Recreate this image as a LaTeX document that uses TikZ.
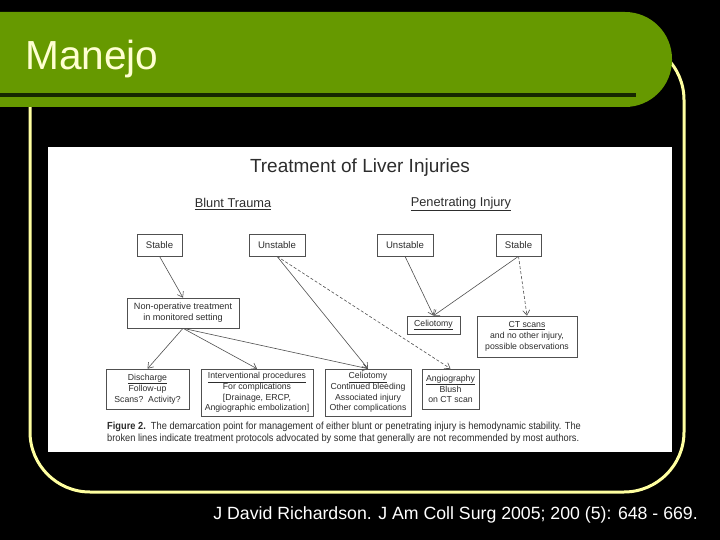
\documentclass[tikz,border=0pt]{standalone}
\usepackage{fontspec}
\setmainfont{Liberation Sans}
\newfontfamily\figfont{Liberation Sans}
\newfontfamily\capfont[FakeStretch=0.9]{Liberation Sans}
\usepackage{tikz}
\usetikzlibrary{arrows.meta}

\definecolor{titlegreen}{RGB}{102,153,0}
\definecolor{bardark}{RGB}{22,40,0}
\definecolor{framey}{RGB}{255,255,160}
\definecolor{titletxt}{RGB}{255,255,210}
\definecolor{boxgray}{RGB}{80,80,80}
\definecolor{txtgray}{RGB}{45,45,45}

\tikzset{
  box/.style={draw=boxgray, line width=0.6pt, inner sep=1pt, align=center, text=txtgray,
    font=\figfont\fontsize{8.7}{10.8}\selectfont},
  topbox/.style={box, font=\figfont\fontsize{9.6}{11}\selectfont},
  link/.style={-{Straight Barb[length=5pt,width=7pt]}, draw=boxgray, line width=0.6pt},
  maybe/.style={link, dash pattern=on 3pt off 2pt}
}

\begin{document}
\begin{tikzpicture}[x=1pt,y=-1pt]
\useasboundingbox (0,0) rectangle (720,540);
\fill[black] (0,0) rectangle (720,540);
% frame and title bar
\draw[framey, line width=3pt, rounded corners=60pt] (30,40) rectangle (684,492);
\fill[titlegreen] (0,12) [rounded corners=47pt] -- (672,12) -- (672,107) [sharp corners] -- (0,107) -- cycle;
\fill[bardark] (0,93) rectangle (636,97);
\node[anchor=base west, inner sep=0pt, text=titletxt, font=\fontsize{40.6}{44}\selectfont] (title) at (25,70) {Manejo};
\fill[white] (48,147) rectangle (672,452);

% figure
\node[text=txtgray, font=\figfont\fontsize{19}{22}\selectfont] (head) at (360,168) {Treatment of Liver Injuries};
\node[text=txtgray, font=\figfont\fontsize{12.8}{15}\selectfont] (blunt) at (233,204) {\underline{Blunt Trauma}};
\node[text=txtgray, font=\figfont\fontsize{12.8}{15}\selectfont] (pen) at (461,204) {\underline{Penetrating Injury}};

\node[topbox, minimum width=45pt, minimum height=22pt] (bstable) at (159.5,245) {Stable};
\node[topbox, minimum width=56pt, minimum height=22pt] (bunstable) at (277,245) {Unstable};
\node[topbox, minimum width=56pt, minimum height=22pt] (punstable) at (405,245) {Unstable};
\node[topbox, minimum width=45pt, minimum height=22pt] (pstable) at (518.5,245) {Stable};

\node[box, font=\figfont\fontsize{9.1}{11}\selectfont, minimum width=112pt, minimum height=30pt] (nonop) at (183,313)
  {Non-operative treatment\\in monitored setting};
\node[box, minimum width=53pt, minimum height=18pt] (pcelio) at (433.5,325) {\underline{Celiotomy}};
\node[box, minimum width=100pt, minimum height=41pt] (ctscan) at (527,336.5)
  {\underline{CT scans}\\and no other injury,\\possible observations};

\node[box, minimum width=83pt, minimum height=40pt] (discharge) at (147.5,389)
  {\underline{Discharge}\\Follow-up\\Scans?\ \ Activity?};
\node[box, minimum width=112pt, minimum height=47pt] (interv) at (257,392.5)
  {\underline{Interventional procedures}\\For complications\\{[Drainage, ERCP,}\\Angiographic embolization]};
\node[box, minimum width=86pt, minimum height=47pt] (bcelio) at (368,392.5)
  {\underline{Celiotomy}\\Continued bleeding\\Associated injury\\Other complications};
\node[box, minimum width=57pt, minimum height=40pt] (angio) at (450.5,389)
  {\underline{Angiography}\\Blush\\on CT scan};

\node[anchor=north west, inner sep=0pt, align=left, text=txtgray, font=\capfont\fontsize{10.3}{12.6}\selectfont] (caption) at (107,421.5)
  {\textbf{Figure 2.}\ \ The demarcation point for management of either blunt or penetrating injury is hemodynamic stability. The\\
   broken lines indicate treatment protocols advocated by some that generally are not recommended by most authors.};

% connectors
\draw[link] (bstable.south) -- (nonop.north);
\draw[link] (bunstable.south) -- (bcelio.north);
\draw[maybe] (bunstable.south) -- (angio.north);
\draw[link] (nonop.south) -- (discharge.north);
\draw[link] (nonop.south) -- (interv.north);
\draw[link] (nonop.south) -- (bcelio.north);
\draw[link] (punstable.south) -- (pcelio.north);
\draw[link] (pstable.south) -- (pcelio.north);
\draw[maybe] (pstable.south) -- (ctscan.north);

\node[anchor=base east, inner sep=0pt, text=white, font=\fontsize{17.7}{20}\selectfont] (cite) at (698,519)
  {J David Richardson. J Am Coll Surg 2005; 200 (5): 648 - 669.};
\end{tikzpicture}
\end{document}
